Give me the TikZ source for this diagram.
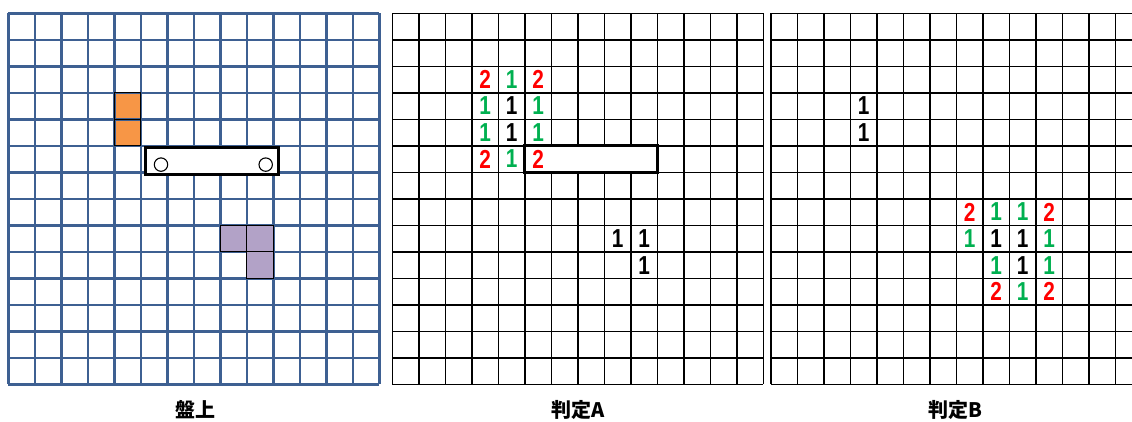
\documentclass[tikz,border=0pt]{standalone}
\usepackage{fontspec}
\usepackage{graphicx}
\setmainfont{Liberation Sans}
\newfontfamily\jpfont{Noto Sans CJK JP}
\usepackage{xcolor}
\definecolor{gridblue}{RGB}{62,96,146}
\definecolor{cellorange}{RGB}{247,150,70}
\definecolor{cellpurple}{RGB}{178,162,199}
\definecolor{numred}{RGB}{255,0,0}
\definecolor{numgreen}{RGB}{0,176,80}
\newcommand{\cs}{26.5}
\newcommand{\cellgrid}[4]{%
  \foreach \i in {0,...,14}{\draw[#3,line width=#4] ({#1+\i*\cs},#2)--({#1+\i*\cs},{#2+14*\cs});}
  \foreach \i in {0,...,14}{\draw[#3,line width=#4] (#1,{#2+\i*\cs})--({#1+14*\cs},{#2+\i*\cs});}
}
\newcommand{\cellnums}[4]{%
  \foreach \r/\c/\v/\col in {#4}{\node[num,text=\col] (#3-\r-\c) at ({#1+(\c+0.5)*\cs},{#2+(\r+0.5)*\cs}) {\scalebox{0.8}[1]{\v}};}
}

\begin{document}
\begin{tikzpicture}[x=1pt,y=-1pt,
  num/.style={inner sep=0pt,font=\fontsize{26}{28}\selectfont\bfseries},
  caption/.style={inner sep=0pt,font=\jpfont\bfseries\fontsize{20}{22}\selectfont},
  piece/.style={draw=black,fill=white,line width=3pt}]
\useasboundingbox (0,0) rectangle (1132,421);
% board
\foreach \c/\r in {4/3,4/4}{\filldraw[fill=cellorange,draw=black,line width=1pt] ({8.3+\c*\cs},{13.3+\r*\cs}) rectangle ++(\cs,\cs);}
\cellgrid{8.3}{13.3}{gridblue}{2.6pt}
\foreach \c/\r in {8/8,9/8,9/9}{\filldraw[fill=cellpurple,draw=black,line width=1pt] ({8.3+\c*\cs},{13.3+\r*\cs}) rectangle ++(\cs,\cs);}
\foreach \c/\r in {4/3,4/4}{\draw[black,line width=1pt] ({8.3+\c*\cs},{13.3+\r*\cs}) rectangle ++(\cs,\cs);}
\filldraw[piece] (145,147.3) rectangle (278.3,174);
\filldraw[fill=white,draw=black,line width=1.1pt] (161,164.6) circle (6.7);
\filldraw[fill=white,draw=black,line width=1.1pt] (265.7,164.6) circle (6.7);
\node[caption] (lbl-board) at (195,410) {盤上};
% judge A
\cellgrid{392.3}{13.3}{black}{1.6pt}
\filldraw[piece] ({392.3+5*\cs},{13.3+5*\cs}) rectangle ({392.3+10*\cs},{13.3+6*\cs});
\cellnums{392.3}{13.3}{A}{2/3/2/numred,2/4/1/numgreen,2/5/2/numred,
  3/3/1/numgreen,3/4/1/black,3/5/1/numgreen,
  4/3/1/numgreen,4/4/1/black,4/5/1/numgreen,
  5/3/2/numred,5/4/1/numgreen,5/5/2/numred,
  8/8/1/black,8/9/1/black,9/9/1/black}
\node[caption] (lbl-a) at (578,410) {判定A};
% judge B
\begin{scope}
\clip (766,0) rectangle (1132,421);
\cellgrid{771}{13.3}{black}{1.6pt}
\end{scope}
\cellnums{771}{13.3}{B}{3/3/1/black,4/3/1/black,
  7/7/2/numred,7/8/1/numgreen,7/9/1/numgreen,7/10/2/numred,
  8/7/1/numgreen,8/8/1/black,8/9/1/black,8/10/1/numgreen,
  9/8/1/numgreen,9/9/1/black,9/10/1/numgreen,
  10/8/2/numred,10/9/1/numgreen,10/10/2/numred}
\node[caption] (lbl-b) at (955,410) {判定B};
\end{tikzpicture}
\end{document}
